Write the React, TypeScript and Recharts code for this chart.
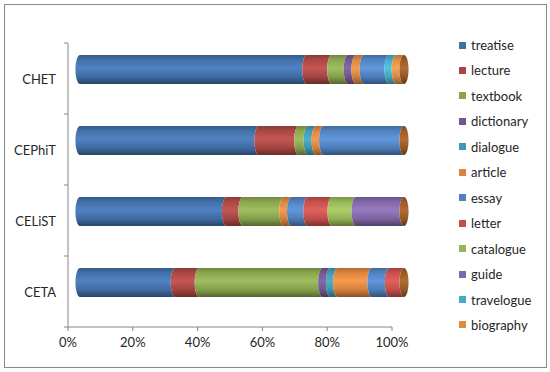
import { Bar, BarChart, XAxis, YAxis } from "recharts";

// Share of genres per corpus, percent of each bar.
const categories = ["CHET", "CEPhiT", "CELiST", "CETA"];
const seriesNames = [
  "treatise",
  "lecture",
  "textbook",
  "dictionary",
  "dialogue",
  "article",
  "essay",
  "letter",
  "catalogue",
  "guide",
  "travelogue",
  "biography",
];
const seriesColors = [
  "#4A7EBE",
  "#C0504D",
  "#9BBB59",
  "#8064A2",
  "#4BACC6",
  "#F79646",
  "#5B93D9",
  "#E05A57",
  "#AACF62",
  "#9275BC",
  "#4CC2DE",
  "#F9A04E",
];

const treatise = [70, 55.2, 45.2, 29.4];
const lecture = [7.7, 12.3, 5.1, 7.4];
const textbook = [5.1, 2.9, 12.6, 38.1];
const dictionary = [2.4, 0, 0, 2.4];
const dialogue = [0, 2.5, 0, 2.2];
const article = [2.5, 2.3, 2.4, 10.6];
const essay = [7.7, 24.8, 5, 5.4];
const letter = [0, 0, 7.5, 4.5];
const catalogue = [0, 0, 7.4, 0];
const guide = [0, 0, 14.8, 0];
const travelogue = [2.2, 0, 0, 0];
const biography = [2.4, 0, 0, 0];

const seriesValues = [
  treatise,
  lecture,
  textbook,
  dictionary,
  dialogue,
  article,
  essay,
  letter,
  catalogue,
  guide,
  travelogue,
  biography,
];

const xTicks = [0, 20, 40, 60, 80, 100];

const data = categories.map((category, i) => {
  const row: Record<string, string | number> = { category };
  seriesNames.forEach((name, s) => {
    row[name] = seriesValues[s][i];
  });
  return row;
});

const FONT = "Lato, 'Open Sans', sans-serif";
const TEXT = "#262626";
const AXIS = "#868686";

const PLOT_TOP = 43;
const PLOT_BOTTOM = 327;
const HALF_BAND = (PLOT_BOTTOM - PLOT_TOP) / categories.length / 2;

// 3D depth: the cylinders sit up-right of the axes
const DEPTH_X = 12;
const DEPTH_Y = -9;
const RX = 4.6;

// multiply (f < 1) or lighten towards white (f > 1)
function shade(hex: string, f: number): string {
  const n = parseInt(hex.slice(1), 16);
  const ch = [(n >> 16) & 255, (n >> 8) & 255, n & 255].map((c) =>
    f <= 1 ? Math.round(c * f) : Math.round(c + (255 - c) * (f - 1))
  );
  return `rgb(${ch.join(",")})`;
}

function CylinderGradient({ id, color }: { id: string; color: string }) {
  return (
    <linearGradient id={id} x1="0" y1="0" x2="0" y2="1">
      <stop offset="0%" stopColor={shade(color, 0.72)} />
      <stop offset="18%" stopColor={shade(color, 0.9)} />
      <stop offset="45%" stopColor={shade(color, 1.04)} />
      <stop offset="75%" stopColor={shade(color, 0.85)} />
      <stop offset="100%" stopColor={shade(color, 0.55)} />
    </linearGradient>
  );
}

// each segment: left edge bulges left, right edge is hollowed by the next one
function cylinderShape(si: number) {
  const last = si === seriesNames.length - 1;
  return (props: any) => {
    const { x, y, width, height } = props;
    if (x == null || y == null || height == null) return null;
    const ry = height / 2;
    const x0 = x + DEPTH_X;
    const x1 = x0 + (width || 0);
    const top = y + DEPTH_Y;
    const bot = top + height;
    return (
      <g>
        {width > 0.3 && (
          <path
            d={`M${x0},${top} L${x1},${top} A${RX},${ry} 0 0 0 ${x1},${bot} L${x0},${bot} A${RX},${ry} 0 0 1 ${x0},${top} Z`}
            fill={`url(#cyl-${si})`}
          />
        )}
        {last && (
          <ellipse cx={x1} cy={top + ry} rx={RX} ry={ry} fill="url(#cyl-cap)" />
        )}
      </g>
    );
  };
}

// category label at the band centre, tick mark on the band boundary (Excel style)
function CategoryTick(props: any) {
  const { x, y, payload, index } = props;
  return (
    <g>
      <text
        x={x}
        y={y}
        textAnchor="end"
        dominantBaseline="central"
        fill={TEXT}
        fontSize={13}
        fontFamily={FONT}
      >
        {payload.value}
      </text>
      <line x1={x + 8} x2={x + 12} y1={y - HALF_BAND} y2={y - HALF_BAND} stroke={AXIS} />
      {index === categories.length - 1 && (
        <line x1={x + 8} x2={x + 12} y1={y + HALF_BAND} y2={y + HALF_BAND} stroke={AXIS} />
      )}
    </g>
  );
}

function Legend() {
  return (
    <div style={{ position: "absolute", left: 0, top: 0 }}>
      {seriesNames.map((name, i) => (
        <div
          key={name}
          style={{
            position: "absolute",
            left: 459,
            top: 37 + i * 25.45,
            height: 16,
            display: "flex",
            alignItems: "center",
            whiteSpace: "nowrap",
          }}
        >
          <span
            style={{
              width: 7,
              height: 7,
              background: shade(seriesColors[i], 0.88),
              marginRight: 5,
            }}
          />
          <span style={{ fontFamily: FONT, fontSize: 13, color: TEXT, lineHeight: "16px" }}>
            {name}
          </span>
        </div>
      ))}
    </div>
  );
}

export default function App() {
  return (
    <div
      style={{
        position: "absolute",
        left: 0,
        top: 0,
        width: 550,
        height: 372,
        background: "#fff",
        fontFamily: FONT,
      }}
    >
      <div
        style={{
          position: "absolute",
          left: 4,
          top: 4,
          width: 543,
          height: 364,
          boxSizing: "border-box",
          border: "1px solid #8a8a8a",
        }}
      />
      <div style={{ position: "absolute", left: 0, top: 0 }}>
        <BarChart
          width={550}
          height={372}
          data={data}
          layout="vertical"
          barSize={29}
          margin={{ top: PLOT_TOP, right: 158, bottom: 0, left: 0 }}
        >
          <defs>
            {seriesColors.map((c, i) => (
              <CylinderGradient key={i} id={`cyl-${i}`} color={c} />
            ))}
            <CylinderGradient id="cyl-cap" color="#AE6629" />
          </defs>

          <XAxis
            type="number"
            domain={[0, 100]}
            ticks={xTicks}
            tickFormatter={(v: number) => `${v}%`}
            height={372 - PLOT_BOTTOM}
            tickSize={4}
            tickMargin={7}
            stroke={AXIS}
            tick={{ fill: TEXT, fontSize: 13, fontFamily: FONT }}
          />
          <YAxis
            type="category"
            dataKey="category"
            width={68}
            stroke={AXIS}
            tickLine={false}
            tickSize={0}
            tickMargin={12}
            tick={<CategoryTick />}
          />

          {seriesNames.map((name, i) => (
            <Bar
              key={name}
              dataKey={name}
              stackId="a"
              fill={seriesColors[i]}
              shape={cylinderShape(i)}
              isAnimationActive={false}
            />
          ))}
        </BarChart>
      </div>
      <Legend />
    </div>
  );
}
